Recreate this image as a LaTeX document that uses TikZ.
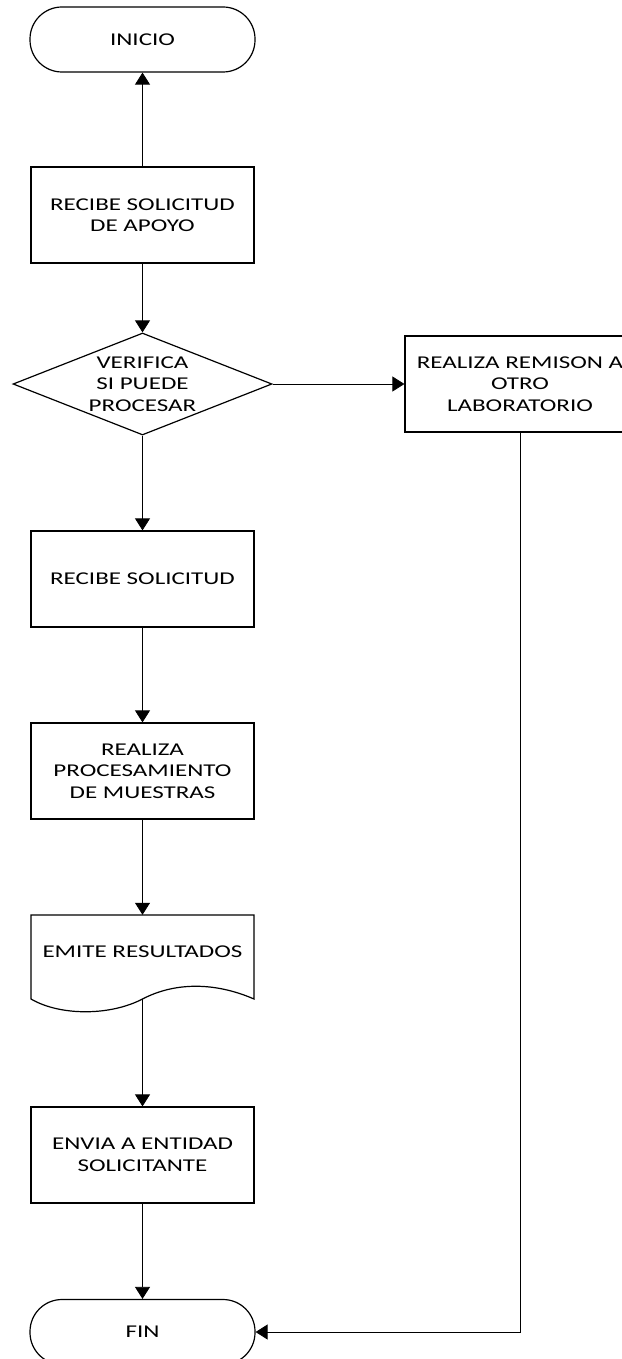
\documentclass[tikz,border=0pt]{standalone}
\usepackage{fontspec}
\setmainfont{Carlito}[FakeStretch=1.39]
\usetikzlibrary{arrows.meta,shapes.geometric}
\begin{document}
\begin{tikzpicture}[x=1pt,y=-1pt,
  every node/.style={font=\fontsize{18}{21.5}\selectfont, align=center, inner sep=2pt},
  shp/.style={draw=black, line width=1.2pt},
  term/.style={shp, rectangle, rounded corners=32pt, minimum width=225pt, minimum height=65pt},
  proc/.style={shp, rectangle, minimum width=223pt, minimum height=96pt},
  decis/.style={shp, diamond, aspect=2.54, inner sep=0pt, minimum width=259pt, minimum height=102pt},
  docnode/.style={rectangle, minimum width=223pt, minimum height=74pt},
  arr/.style={draw=black, line width=0.8pt, -{Triangle[length=12pt,width=15pt]}},
  ln/.style={draw=black, line width=0.8pt}
]
\useasboundingbox (0,0) rectangle (621,1359);

\node[term] (inicio) at (142.5,39.5) {INICIO};
\node[proc] (b1) at (142.5,215) {RECIBE SOLICITUD\\DE APOYO};
\node[decis] (dia) at (142.5,384) {VERIFICA\\SI PUEDE\\PROCESAR};
\node[proc, minimum width=230pt] (r) at (520,384) {REALIZA REMISON A\\OTRO\\LABORATORIO};
\node[proc] (b2) at (142.5,579) {RECIBE SOLICITUD};
\node[proc] (b3) at (142.5,771) {REALIZA\\PROCESAMIENTO\\DE MUESTRAS};
\node[docnode] (doc) at (142.5,952) {EMITE RESULTADOS};
\node[proc] (b4) at (142.5,1155) {ENVIA A ENTIDAD\\SOLICITANTE};
\node[term] (fin) at (142.5,1332) {FIN};

% document shape
\draw[shp] (31,915) -- (254,915) -- (254,999)
  .. controls (215,982) and (175,982) .. (142.5,999)
  .. controls (110,1016) and (60,1016) .. (31,999) -- cycle;
\coordinate (docbot) at (142.5,999);

\draw[arr] (b1.north) -- (inicio.south);
\draw[arr] (b1.south) -- (dia.north);
\draw[arr] (dia.east) -- (r.west);
\draw[arr] (dia.south) -- (b2.north);
\draw[arr] (b2.south) -- (b3.north);
\draw[arr] (b3.south) -- (doc.north);
\draw[arr] (docbot) -- (b4.north);
\draw[arr] (b4.south) -- (fin.north);
\draw[arr] (r.south) |- (fin.east);
\end{tikzpicture}
\end{document}
